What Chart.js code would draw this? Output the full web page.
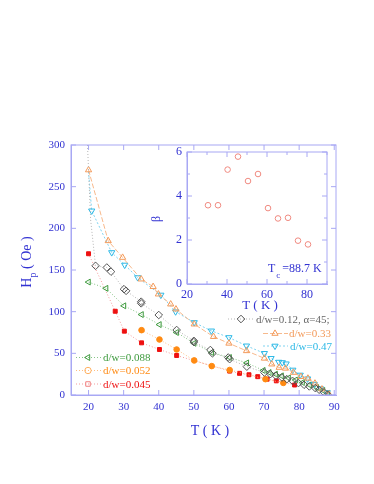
<!DOCTYPE html>
<html>
<head>
<meta charset="UTF-8">
<title>Hp vs T</title>
<script src="https://cdn.jsdelivr.net/npm/chart.js@4.4.0/dist/chart.umd.min.js"></script>
<style>
  body { margin: 0; background: #fff; }
  #wrap { position: relative; width: 374px; height: 484px; }
  #main { position: absolute; left: 0; top: 0; }
  #inset { position: absolute; left: 140px; top: 130px; }
</style>
</head>
<body>
<div id="wrap">
  <canvas id="main" width="374" height="484"></canvas>
  <canvas id="inset" width="200" height="190"></canvas>
</div>
<script>
// ---- data ----
// d/w=0.12, alpha=45 (open diamonds); first two points are the dotted fit going up, no marker
const tGray = [19.7, 20.6, 22.0, 25.2, 26.4, 30.1, 30.7, 35.0, 35.0, 40.0, 45.1, 50.0, 50.0, 54.7, 55.3, 59.8, 60.2, 65.1, 70.1, 71.8, 73.4, 75.1, 76.5, 78.1, 79.8, 81.4, 82.9, 84.6, 85.7, 87.1, 88.1];
const hGray = [300, 210, 155, 153, 148, 127, 125, 112, 110, 96, 78, 65, 63.5, 54, 50, 45, 43, 34, 27, 25, 23, 21, 19, 17, 14.3, 12.3, 10.3, 8.3, 6.3, 3.1, 0.4];
// d/w=0.33 (open up triangles)
const tOrTri = [20.0, 25.6, 29.7, 35.0, 38.4, 39.9, 43.4, 44.9, 50.1, 55.6, 60.0, 65.0, 70.1, 72.2, 74.3, 76.1, 78.4, 80.5, 82.5, 84.5, 86.5, 88.5];
const hOrTri = [270, 185, 165, 139, 130, 121, 109, 103, 85, 70, 62, 53, 44, 37, 33, 32, 27, 22, 20, 14, 7, 1];
// d/w=0.47 (open down triangles); first point is the fit line only
const tCyan = [20.0, 20.9, 26.6, 30.3, 34.0, 40.6, 44.8, 50.1, 55.0, 60.0, 65.0, 70.1, 72.0, 74.2, 75.2, 76.3, 78.2, 80.3, 82.4, 84.3, 86.2, 88.0];
const hCyan = [268, 221, 171, 156, 141, 120, 100, 87, 77, 69, 59, 50, 44, 39.5, 39, 37.5, 30, 24, 19.5, 13, 7.5, 3];
// d/w=0.088 (open left triangles)
const tGreen = [20.0, 25.0, 30.1, 35.1, 40.2, 45.1, 50.1, 55.1, 60.2, 65.1, 69.8, 71.5, 73.3, 75.0, 77.0, 79.0, 81.0, 83.0, 85.0, 86.8, 88.2];
const hGreen = [135.5, 128, 107, 96.5, 84.5, 75, 62, 51, 45, 38.5, 29.5, 27, 25, 23, 20.5, 18, 15, 12, 9, 5.5, 2];
// d/w=0.052 (filled circles)
const tOrDot = [35.1, 40.2, 45.1, 50.1, 55.1, 60.2, 70.4, 75.5];
const hOrDot = [77.8, 66.6, 54.6, 41.5, 34.7, 30, 19, 14.5];
// d/w=0.045 (filled squares)
const tRed = [20.0, 27.6, 30.2, 35.1, 40.2, 45.1, 60.2, 63.0, 65.7, 68.2, 70.9, 73.5, 78.7];
const hRed = [169.5, 100.5, 76.6, 62.6, 54.6, 47.4, 28.7, 26, 24.3, 22, 19, 17, 12];
// inset: beta vs T
const tBeta = [30.5, 35.5, 40.3, 45.5, 50.5, 55.5, 60.5, 65.5, 70.5, 75.5, 80.5];
const beta = [3.58, 3.58, 5.2, 5.79, 4.68, 5.0, 3.45, 2.98, 3.01, 1.97, 1.8];

const mainXTicks = [20, 30, 40, 50, 60, 70, 80, 90];
const mainYTicks = [0, 50, 100, 150, 200, 250, 300];
const insetXTicks = [20, 40, 60, 80];
const insetXMinor = [30, 50, 70, 90];
const insetYTicks = [0, 2, 4, 6];
const insetYMinor = [1, 3, 5];

const pts = (xs, ys) => xs.map((x, i) => ({x: x, y: ys[i]}));

const BLUE = '#3232d2';
const FRAME = '#a8a8f4';
const SERIF = "'Liberation Serif', 'DejaVu Serif', serif";

const C_GRAY = '#555555', C_GRAY_L = '#b4b4b4';
const C_ORT = '#f39a5a', C_ORT_L = '#f7b98c';
const C_CYAN = '#2bb8e6', C_CYAN_L = '#7fd3f0';
const C_GREEN = '#3d9a3d', C_GREEN_L = '#86c486';
const C_ORD = '#ff8a12', C_ORD_L = '#ffbe80';
const C_RED = '#ee1010', C_RED_L = '#f59a9a';

function radiiFirst(n, hidden, r) {
  return Array.from({length: n}, (_, i) => i < hidden ? 0 : r);
}

const datasets = [
  {data: pts(tGray, hGray), borderColor: C_GRAY_L, pointBorderColor: C_GRAY, backgroundColor: 'transparent',
   pointStyle: 'rectRot', pointRadius: radiiFirst(tGray.length, 2, 3.8), borderDash: [1, 2]},
  {data: pts(tOrTri, hOrTri), borderColor: C_ORT_L, pointBorderColor: C_ORT, backgroundColor: 'transparent',
   pointStyle: 'triangle', pointRadius: 3.6, borderDash: [5, 2]},
  {data: pts(tCyan, hCyan), borderColor: C_CYAN_L, pointBorderColor: C_CYAN, backgroundColor: 'transparent',
   pointStyle: 'triangle', pointRotation: 180, pointRadius: radiiFirst(tCyan.length, 1, 3.6), borderDash: [2, 2]},
  {data: pts(tGreen, hGreen), borderColor: C_GREEN_L, pointBorderColor: C_GREEN, backgroundColor: 'transparent',
   pointStyle: 'triangle', pointRotation: -90, pointRadius: 3.4, borderDash: [1, 2]},
  {data: pts(tOrDot, hOrDot), borderColor: C_ORD_L, pointBorderColor: C_ORD, pointBackgroundColor: C_ORD,
   pointStyle: 'circle', pointRadius: 2.8, borderDash: [1, 2]},
  {data: pts(tRed, hRed), borderColor: C_RED_L, pointBorderColor: C_RED, pointBackgroundColor: C_RED,
   pointStyle: 'rect', pointRadius: 2.8, borderDash: [1, 2]}
];
datasets.forEach(d => { d.showLine = true; d.borderWidth = 1; d.pointBorderWidth = 1; d.tension = 0; d.fill = false; });

function drawMark(ctx, style, rot, r, x, y, stroke, fill) {
  ctx.save();
  ctx.setLineDash([]);
  ctx.strokeStyle = stroke;
  ctx.fillStyle = fill || 'transparent';
  ctx.lineWidth = 1;
  Chart.helpers.drawPoint(ctx, {pointStyle: style, rotation: rot, radius: r, borderWidth: 1}, x, y);
  ctx.restore();
}

function legendRow(ctx, x1, x2, xm, y, dash, lineCol, style, rot, r, markCol, fill, text, textCol, tx) {
  ctx.save();
  ctx.strokeStyle = lineCol;
  ctx.lineWidth = 1;
  ctx.setLineDash(dash);
  ctx.beginPath(); ctx.moveTo(x1, y); ctx.lineTo(x2, y); ctx.stroke();
  ctx.restore();
  drawMark(ctx, style, rot, r, xm, y, markCol, fill);
  ctx.save();
  ctx.fillStyle = textCol;
  ctx.font = '11px ' + SERIF;
  ctx.textBaseline = 'middle';
  ctx.textAlign = 'left';
  ctx.fillText(text, tx, y + 1);
  ctx.restore();
}

// frame, inward ticks, titles and in-plot legends for the main plot
const mainDeco = {
  id: 'mainDeco',
  afterDraw(chart) {
    const ctx = chart.ctx, a = chart.chartArea, sx = chart.scales.x, sy = chart.scales.y;
    ctx.save();
    ctx.strokeStyle = FRAME;
    ctx.lineWidth = 1;
    ctx.strokeRect(a.left, a.top, a.right - a.left, a.bottom - a.top);
    ctx.beginPath();
    mainXTicks.forEach(v => {
      const px = sx.getPixelForValue(v);
      ctx.moveTo(px, a.bottom); ctx.lineTo(px, a.bottom - 5);
      ctx.moveTo(px, a.top); ctx.lineTo(px, a.top + 5);
    });
    mainYTicks.forEach(v => {
      const py = sy.getPixelForValue(v);
      ctx.moveTo(a.left, py); ctx.lineTo(a.left + 5, py);
      ctx.moveTo(a.right, py); ctx.lineTo(a.right - 5, py);
    });
    ctx.stroke();

    // axis titles
    ctx.fillStyle = BLUE;
    ctx.textBaseline = 'middle';
    ctx.font = '14px ' + SERIF;
    ctx.textAlign = 'center';
    ctx.fillText('T ( K )', 210, 431);

    ctx.save();
    ctx.translate(27, 262);
    ctx.rotate(-Math.PI / 2);
    const f1 = '14px ' + SERIF, f2 = '10px ' + SERIF;
    ctx.font = f1; const wH = ctx.measureText('H').width; const wR = ctx.measureText(' ( Oe )').width;
    ctx.font = f2; const wp = ctx.measureText('p').width;
    let x0 = -(wH + wp + wR) / 2;
    ctx.textAlign = 'left';
    ctx.font = f1; ctx.fillText('H', x0, 0);
    ctx.font = f2; ctx.fillText('p', x0 + wH, 6);
    ctx.font = f1; ctx.fillText(' ( Oe )', x0 + wH + wp, 0);
    ctx.restore();
    ctx.restore();

    // legends
    legendRow(ctx, 76, 102, 88, 357.5, [1, 2], C_GREEN_L, 'triangle', -90, 3.4, C_GREEN, null, 'd/w=0.088', C_GREEN, 103);
    legendRow(ctx, 76, 102, 88, 370.5, [1, 2], C_ORD_L, 'circle', 0, 3.2, '#ffb060', null, 'd/w=0.052', C_ORD, 103);
    legendRow(ctx, 76, 102, 88, 384, [1, 2], C_RED_L, 'rect', 0, 3.2, '#f08080', null, 'd/w=0.045', C_RED, 103);
    legendRow(ctx, 228, 255, 241, 319, [1, 2], C_GRAY_L, 'rectRot', 0, 3.8, C_GRAY, null, 'd/w=0.12, \u03b1=45;', '#666666', 256);
    legendRow(ctx, 263, 288, 275, 333.5, [5, 2], C_ORT_L, 'triangle', 0, 3.6, C_ORT, null, 'd/w=0.33', C_ORT, 289);
    legendRow(ctx, 263, 288, 275, 346, [2, 2], C_CYAN_L, 'triangle', 180, 3.6, C_CYAN, null, 'd/w=0.47', C_CYAN, 290);
  }
};

const tickFont = {family: SERIF, size: 11};

new Chart(document.getElementById('main'), {
  type: 'scatter',
  data: {datasets: datasets},
  options: {
    responsive: false,
    animation: false,
    layout: {padding: {top: 145, right: 38, left: 0, bottom: 0}},
    plugins: {legend: {display: false}, tooltip: {enabled: false}},
    scales: {
      x: {
        type: 'linear', min: 15, max: 90.5,
        afterBuildTicks(s) { s.ticks = mainXTicks.map(v => ({value: v})); },
        afterFit(s) { s.height = 89; },
        ticks: {color: BLUE, font: tickFont, padding: 6, maxRotation: 0},
        grid: {display: false, drawTicks: false},
        border: {color: FRAME}
      },
      y: {
        type: 'linear', min: 0, max: 300,
        afterBuildTicks(s) { s.ticks = mainYTicks.map(v => ({value: v})); },
        afterFit(s) { s.width = 71; },
        ticks: {color: BLUE, font: tickFont, padding: 6},
        grid: {display: false, drawTicks: false},
        border: {color: FRAME}
      }
    }
  },
  plugins: [mainDeco]
});

// ---- inset ----
const insetDeco = {
  id: 'insetDeco',
  afterDraw(chart) {
    const ctx = chart.ctx, a = chart.chartArea, sx = chart.scales.x, sy = chart.scales.y;
    ctx.save();
    ctx.strokeStyle = FRAME;
    ctx.lineWidth = 1;
    ctx.strokeRect(a.left, a.top, a.right - a.left, a.bottom - a.top);
    ctx.beginPath();
    const xt = (vals, len) => vals.forEach(v => {
      const px = sx.getPixelForValue(v);
      ctx.moveTo(px, a.bottom); ctx.lineTo(px, a.bottom - len);
      ctx.moveTo(px, a.top); ctx.lineTo(px, a.top + len);
    });
    const yt = (vals, len) => vals.forEach(v => {
      const py = sy.getPixelForValue(v);
      ctx.moveTo(a.left, py); ctx.lineTo(a.left + len, py);
      ctx.moveTo(a.right, py); ctx.lineTo(a.right - len, py);
    });
    xt(insetXTicks, 5); xt(insetXMinor, 3);
    yt(insetYTicks, 5); yt(insetYMinor, 3);
    ctx.stroke();

    ctx.fillStyle = BLUE;
    ctx.textBaseline = 'middle';
    ctx.textAlign = 'center';
    ctx.font = '13px ' + SERIF;
    ctx.fillText('T ( K )', 120, 176);

    ctx.save();
    ctx.translate(17, 89);
    ctx.rotate(-Math.PI / 2);
    ctx.font = '12px ' + SERIF;
    ctx.fillText('\u03b2', 0, 0);
    ctx.restore();

    ctx.textAlign = 'left';
    ctx.font = '12px ' + SERIF;
    ctx.fillText('T', 128, 138.5);
    const wT = ctx.measureText('T').width;
    ctx.font = '9px ' + SERIF;
    ctx.fillText('c', 128 + wT + 1, 146);
    ctx.font = '12px ' + SERIF;
    ctx.fillText(' =88.7 K', 128 + wT + 4, 138.5);
    ctx.restore();
  }
};

new Chart(document.getElementById('inset'), {
  type: 'scatter',
  data: {datasets: [{
    data: pts(tBeta, beta),
    pointStyle: 'circle', pointRadius: 2.8, pointBorderWidth: 1,
    pointBorderColor: '#f08a80', pointBackgroundColor: 'transparent', showLine: false
  }]},
  options: {
    responsive: false,
    animation: false,
    layout: {padding: {top: 22, right: 13, left: 0, bottom: 0}},
    plugins: {legend: {display: false}, tooltip: {enabled: false}},
    scales: {
      x: {
        type: 'linear', min: 20, max: 90,
        afterBuildTicks(s) { s.ticks = insetXTicks.map(v => ({value: v})); },
        afterFit(s) { s.height = 36; },
        ticks: {color: BLUE, font: {family: SERIF, size: 12}, padding: 4, maxRotation: 0},
        grid: {display: false, drawTicks: false},
        border: {color: FRAME}
      },
      y: {
        type: 'linear', min: 0, max: 6,
        afterBuildTicks(s) { s.ticks = insetYTicks.map(v => ({value: v})); },
        afterFit(s) { s.width = 47; },
        ticks: {color: BLUE, font: {family: SERIF, size: 12}, padding: 5},
        grid: {display: false, drawTicks: false},
        border: {color: FRAME}
      }
    }
  },
  plugins: [insetDeco]
});
</script>
</body>
</html>
